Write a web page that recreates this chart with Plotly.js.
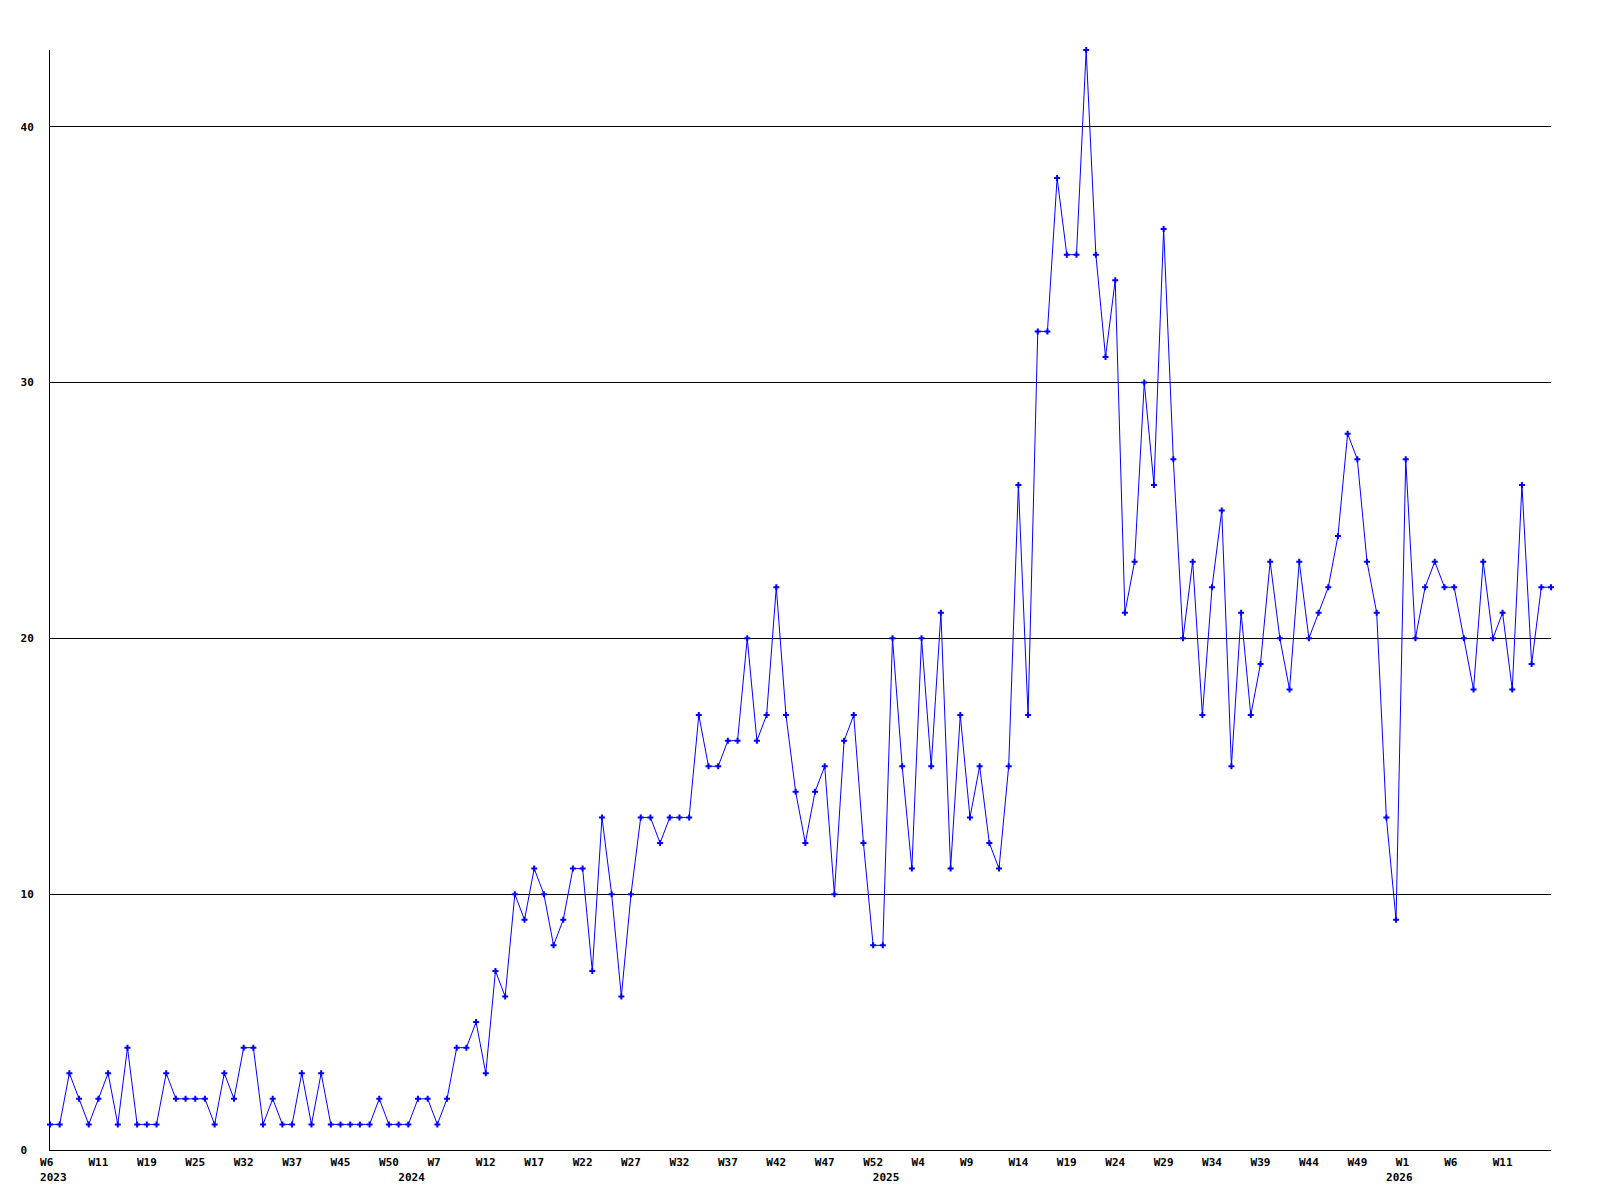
<!DOCTYPE html>
<html>
<head>
<meta charset="utf-8">
<script src="https://cdn.plot.ly/plotly-3.0.1.min.js"></script>
<style>
  html, body { margin: 0; padding: 0; background: #ffffff; }
  #chart { width: 1600px; height: 1200px; }
</style>
</head>
<body>
<div id="chart"></div>
<script>
// Weekly counts, one value per plotted week (2023 W6 ... 2026 W16)
const values = [
  1, 1, 3, 2, 1, 2, 3, 1, 4, 1,
  1, 1, 3, 2, 2, 2, 2, 1, 3, 2,
  4, 4, 1, 2, 1, 1, 3, 1, 3, 1,
  1, 1, 1, 1, 2, 1, 1, 1, 2, 2,
  1, 2, 4, 4, 5, 3, 7, 6, 10, 9,
  11, 10, 8, 9, 11, 11, 7, 13, 10, 6,
  10, 13, 13, 12, 13, 13, 13, 17, 15, 15,
  16, 16, 20, 16, 17, 22, 17, 14, 12, 14,
  15, 10, 16, 17, 12, 8, 8, 20, 15, 11,
  20, 15, 21, 11, 17, 13, 15, 12, 11, 15,
  26, 17, 32, 32, 38, 35, 35, 43, 35, 31,
  34, 21, 23, 30, 26, 36, 27, 20, 23, 17,
  22, 25, 15, 21, 17, 19, 23, 20, 18, 23,
  20, 21, 22, 24, 28, 27, 23, 21, 13, 9,
  27, 20, 22, 23, 22, 22, 20, 18, 23, 20,
  21, 18, 26, 19, 22, 22
];

// Week tick labels (one every 5 plotted weeks)
const weekTickLabels = [
  'W6', 'W11', 'W19', 'W25', 'W32', 'W37', 'W45', 'W50',
  'W7', 'W12', 'W17', 'W22', 'W27', 'W32', 'W37', 'W42', 'W47', 'W52',
  'W4', 'W9', 'W14', 'W19', 'W24', 'W29', 'W34', 'W39', 'W44', 'W49',
  'W1', 'W6', 'W11'
];
const weekTickStep = 5;

// Year labels and the plotted week index where each year starts
const yearLabels = ['2023', '2024', '2025', '2026'];
const yearStartIndex = [0, 37, 86, 139];

// Y axis ticks
const yTickValues = [0, 10, 20, 30, 40];

const NB = '\u00a0';
const xIdx = values.map((_, i) => i);

// Build combined two-row tick labels (week row, year row)
const tickMap = new Map();
weekTickLabels.forEach((w, k) => {
  tickMap.set(k * weekTickStep, { week: w, year: null });
});
yearLabels.forEach((y, k) => {
  const p = yearStartIndex[k];
  const t = tickMap.get(p) || { week: null, year: null };
  t.year = y;
  tickMap.set(p, t);
});
const tickVals = Array.from(tickMap.keys()).sort((a, b) => a - b);
const tickText = tickVals.map(v => {
  const t = tickMap.get(v);
  const wk = t.week ? t.week.padEnd(3, NB) : NB;
  return t.year ? wk + '<br>' + NB + t.year : wk;
});

const labelFont = { family: 'DejaVu Sans Mono, Liberation Mono, monospace', size: 11, color: '#000000', weight: 'bold' };

const trace = {
  type: 'scatter',
  mode: 'lines+markers',
  x: xIdx,
  y: values,
  line: { color: '#0000ff', width: 1 },
  marker: { symbol: 'cross', size: 5, color: '#0000ff', line: { width: 0 } },
  cliponaxis: false,
  hoverinfo: 'x+y'
};

const layout = {
  width: 1600,
  height: 1200,
  margin: { l: 50, r: 49, t: 50, b: 50, pad: 0 },
  paper_bgcolor: '#ffffff',
  plot_bgcolor: '#ffffff',
  showlegend: false,
  font: labelFont,
  xaxis: {
    range: [0, values.length - 1],
    tickmode: 'array',
    tickvals: tickVals,
    ticktext: tickText,
    ticks: '',
    showgrid: false,
    zeroline: false,
    showline: true,
    linecolor: '#000000',
    linewidth: 1,
    tickfont: labelFont,
    tickangle: 0,
    ticklabelstandoff: 2
  },
  yaxis: {
    range: [0, 43],
    tickmode: 'array',
    tickvals: yTickValues,
    ticktext: yTickValues.map(v => String(v).padEnd(2, NB)),
    ticks: '',
    showgrid: true,
    gridcolor: '#000000',
    gridwidth: 1,
    zeroline: false,
    showline: true,
    linecolor: '#000000',
    linewidth: 1,
    tickfont: labelFont,
    ticklabelstandoff: 13
  }
};

Plotly.newPlot('chart', [trace], layout, { displayModeBar: false, staticPlot: true });
</script>
</body>
</html>
